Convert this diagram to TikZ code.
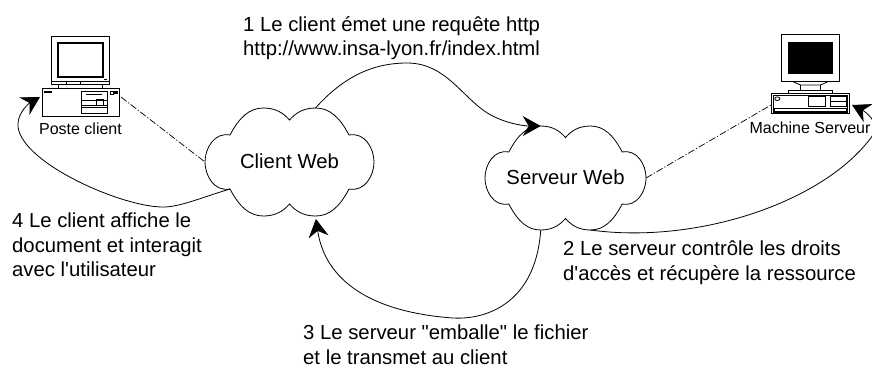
\documentclass[tikz,border=0pt]{standalone}
\usepackage{fontspec}
\newfontfamily\labelfont{Liberation Sans}
\usetikzlibrary{positioning}
\usetikzlibrary{arrows.meta}
\usetikzlibrary{calc}

\tikzset{
	labeltext/.style = {font=\labelfont\fontsize{20.3}{24.5}\selectfont, align=left, anchor=north west, inner sep=0pt},
	smalltext/.style = {font=\labelfont\fontsize{16}{18}\selectfont, inner sep=0pt},
	flow/.style = {-{Stealth[length=18pt,width=20pt,inset=6pt]}, line width=0.8pt},
	link/.style = {dash pattern=on 7pt off 2pt on 1.2pt off 2pt, line width=0.7pt},
	part/.style = {line width=0.8pt},
	pics/webcloud/.style = {code={
		\draw[line width=0.8pt] (-59.5,-27)
			.. controls (-50,-45) and (-40,-54) .. (-26,-54)
			.. controls (-14,-54) and (-6,-49) .. (0,-42)
			.. controls (6,-49) and (14,-54) .. (26,-54)
			.. controls (40,-54) and (50,-45) .. (59.5,-27)
			.. controls (75,-30) and (84.5,-14) .. (84.5,0)
			.. controls (84.5,14) and (75,30) .. (59.5,27)
			.. controls (50,45) and (40,54) .. (26,54)
			.. controls (14,54) and (6,49) .. (0,42)
			.. controls (-6,49) and (-14,54) .. (-26,54)
			.. controls (-40,54) and (-50,45) .. (-59.5,27)
			.. controls (-75,30) and (-84.5,14) .. (-84.5,0)
			.. controls (-84.5,-14) and (-75,-30) .. (-59.5,-27) -- cycle;
		\node[font=\labelfont\fontsize{20.3}{24}\selectfont, inner sep=0pt] (-label) at (0,-1) {#1};
		\coordinate (-w) at (-84.5,0);
		\coordinate (-e) at (84.5,0);
		\coordinate (-tl) at (-26,-54);
		\coordinate (-tr) at (26,-54);
		\coordinate (-bl) at (-26,54);
		\coordinate (-br) at (26,54);
		\coordinate (-sw) at (-59.5,27);
	}}
}

\begin{document}
\begin{tikzpicture}[x=1pt,y=-1pt]
\useasboundingbox (0,0) rectangle (872,368);

% clouds
\pic (client) at (289.5,162) {webcloud={Client Web}};
\pic[xscale=0.953,yscale=0.963] (server) at (565.5,178) {webcloud={Serveur Web}};

% client computer
\draw[part] (51.7,36.7) rectangle (109.3,84.3);
\draw[line width=2.4pt] (58,43) rectangle (103,77);
\draw[part] (51.7,81) -- (109.3,81);
\draw[part] (66,81) -- (66,84) (80,81) -- (80,84);
\fill (103.5,78.5) rectangle (107,80);
\draw[part] (58,84.3) -- (58,88) (102,84.3) -- (102,88);
\draw[part] (42,88) rectangle (119,116);
\fill (44,90.5) rectangle (52,93);
\draw[part] (81.5,91) rectangle (107.5,113);
\draw[line width=1.2pt] (86,94.5) -- (102,94.5);
\draw[part] (81.5,100) -- (107.5,100) (81.5,105) -- (107.5,105) (81.5,107.5) -- (107.5,107.5);
\draw[part] (96.5,99) rectangle (103,105);
\draw[part] (110,91) rectangle (113,94);
\fill (114,91) rectangle (117.5,94);
\coordinate (clientin) at (40,97);
\coordinate (clientout) at (121,97);
\node[smalltext] (clientname) at (80.5,129) {Poste client};

% server computer
\draw[part] (781.7,34.3) rectangle (839.3,81.7);
\fill (788,41.7) rectangle (832.7,74.3);
\draw[part] (793,81.7) -- (800.5,85) -- (820.5,85) -- (828,81.7);
\draw[part] (800.5,85) -- (800.5,90) (820.5,85) -- (820.5,90);
\draw[part] (788,90) rectangle (832.7,93.5);
\draw[part] (771.7,93.5) rectangle (849.3,113.3);
\draw[part] (773.5,95) rectangle (847.5,112);
\draw[part] (777.3,98.7) ellipse (2.6 and 1.8);
\draw[part] (808.3,96.7) rectangle (825,106);
\draw[part] (830,96.7) rectangle (846.7,106);
\draw[part] (830,101.3) -- (846.7,101.3);
\draw[part] (774.3,108.5) rectangle (846.7,111.5);
\coordinate (serverin) at (852,105);
\coordinate (serverout) at (771,105);
\node[smalltext] (servername) at (810,128) {Machine Serveur};

% dash dot links
\draw[link] (clientout) -- (client-w);
\draw[link] (server-e) -- (serverout);

% arrows
\draw[flow] (client-tr) .. controls (345,75) and (375,63) .. (407,63) .. controls (450,63) and (465,105) .. (497,118) .. controls (510,124) and (525,126) .. (server-tl);
\draw[flow] (server-br) .. controls (700,245) and (830,200) .. (875,132) .. controls (878,122) and (866,112) .. (serverin);
\draw[flow,shorten >=3pt] (server-bl) .. controls (536,300) and (490,320) .. (453,318) .. controls (370,312) and (325,280) .. (client-br);
\draw[flow] (client-sw) .. controls (200,198) and (180,207) .. (163,207) .. controls (120,207) and (15,160) .. (18,123) .. controls (19,112) and (28,104) .. (clientin);

% labels
\node[labeltext] (step1) at (243,16) {1 Le client émet une requête http\\http://www.insa-lyon.fr/index.html};
\node[labeltext] (step2) at (563,241) {2 Le serveur contrôle les droits\\d'accès et récupère la ressource};
\node[labeltext] (step3) at (303,325) {3 Le serveur "emballe" le fichier\\et le transmet au client};
\node[labeltext] (step4) at (12,213) {4 Le client affiche le\\document et interagit\\avec l'utilisateur};
\end{tikzpicture}
\end{document}
